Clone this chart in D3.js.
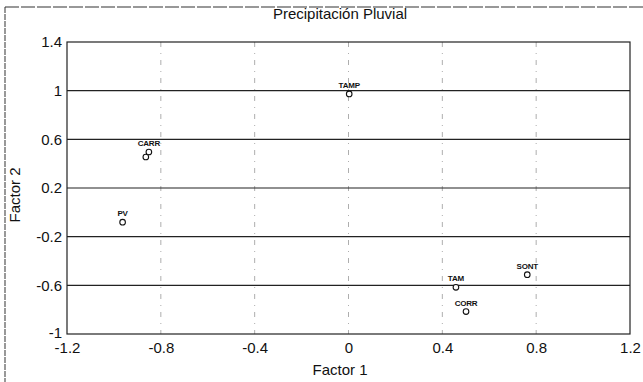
<!DOCTYPE html>
<html><head><meta charset="utf-8">
<script src="https://cdn.jsdelivr.net/npm/d3@7"></script>
<style>body{margin:0;background:#fff}svg{display:block}text{font-family:"Liberation Sans",Arial,sans-serif;fill:#111}</style>
</head><body>
<svg id="c" width="643" height="382"></svg>
<script>
const labels = ["TAMP","CARR","CARR","PV","TAM","CORR","SONT"];
const factor1 = [0.003,-0.851,-0.864,-0.963,0.458,0.501,0.762];
const factor2 = [0.973,0.496,0.455,-0.081,-0.616,-0.816,-0.512];
const xTicks = [-1.2,-0.8,-0.4,0,0.4,0.8,1.2];
const yTicks = [-1,-0.6,-0.2,0.2,0.6,1,1.4];
const showLabel = [true,true,false,true,true,true,true];

const svg = d3.select("#c");
const x = d3.scaleLinear().domain([-1.2,1.2]).range([67,630]);
const y = d3.scaleLinear().domain([-1,1.4]).range([334,42]);

// outer frame (left and top edges visible)
svg.append("line").attr("x1",5).attr("x2",5).attr("y1",7).attr("y2",382).attr("stroke","#555").attr("stroke-width",1.2).attr("stroke-dasharray","6,1");
svg.append("line").attr("x1",5).attr("x2",643).attr("y1",7).attr("y2",7).attr("stroke","#333").attr("stroke-width",1.2).attr("stroke-dasharray","14,2");

// vertical grid (dash-dot, light)
svg.append("g").selectAll("line").data(xTicks.slice(1,-1)).join("line")
  .attr("x1",d=>x(d)).attr("x2",d=>x(d)).attr("y1",y(1.4)).attr("y2",y(-1))
  .attr("stroke","#999").attr("stroke-width",0.8).attr("stroke-dasharray","5,6,1,6");
// horizontal grid (solid)
svg.append("g").selectAll("line").data(yTicks.slice(1,-1)).join("line")
  .attr("x1",x(-1.2)).attr("x2",x(1.2)).attr("y1",d=>y(d)).attr("y2",d=>y(d))
  .attr("stroke","#222").attr("stroke-width",1.1);

// plot frame
svg.append("rect").attr("x",x(-1.2)).attr("y",y(1.4)).attr("width",x(1.2)-x(-1.2)).attr("height",y(-1)-y(1.4))
  .attr("fill","none").attr("stroke","#222").attr("stroke-width",1.2);

// axes
const fmt = d=>String(+d.toFixed(1));
const xa = svg.append("g").attr("transform",`translate(0,${y(-1)})`)
  .call(d3.axisBottom(x).tickValues(xTicks).tickFormat(fmt).tickSize(0).tickPadding(8));
const ya = svg.append("g").attr("transform",`translate(${x(-1.2)},0)`)
  .call(d3.axisLeft(y).tickValues(yTicks).tickFormat(fmt).tickSize(0).tickPadding(5));
[xa,ya].forEach(a=>{a.select(".domain").remove();a.selectAll("text").attr("font-size",15).attr("fill","#111").style("font-family","Liberation Sans, Arial, sans-serif");});
ya.selectAll("text").filter(d=>d===-1).attr("dy","0.2em");

// titles
svg.append("text").attr("x",340).attr("y",19).attr("text-anchor","middle").attr("font-size",15).text("Precipitación Pluvial");
svg.append("text").attr("x",340).attr("y",375).attr("text-anchor","middle").attr("font-size",15).text("Factor 1");
svg.append("text").attr("transform","translate(20,195) rotate(-90)").attr("text-anchor","middle").attr("font-size",15).text("Factor 2");

// points
const pts = labels.map((l,i)=>({l,x:factor1[i],y:factor2[i],s:showLabel[i]}));
svg.append("g").selectAll("circle").data(pts).join("circle")
  .attr("cx",d=>x(d.x)).attr("cy",d=>y(d.y)).attr("r",2.8)
  .attr("fill","#fff").attr("stroke","#111").attr("stroke-width",1.1);
svg.append("g").selectAll("text").data(pts.filter(d=>d.s)).join("text")
  .attr("x",d=>x(d.x)).attr("y",d=>y(d.y)-6).attr("text-anchor","middle")
  .attr("font-size",8).attr("font-weight","bold").attr("letter-spacing",-0.2).text(d=>d.l);
</script>
</body></html>
